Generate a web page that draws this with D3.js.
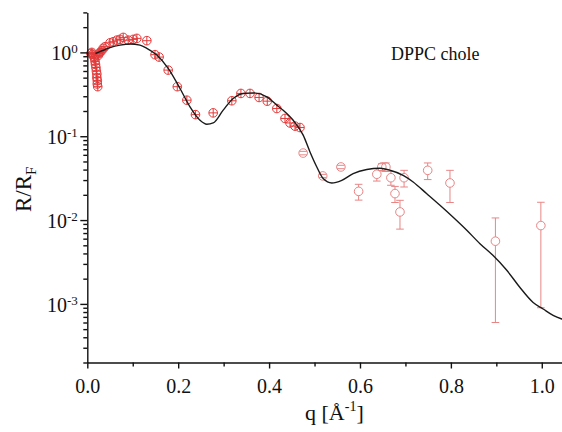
<!DOCTYPE html>
<html>
<head>
<meta charset="utf-8">
<script src="https://cdn.jsdelivr.net/npm/d3@7"></script>
<style>
  html, body { margin: 0; padding: 0; background: #fff; }
  svg { display: block; }
  text { font-family: "Liberation Serif", "Times New Roman", serif; fill: #111; }
</style>
</head>
<body>
<svg id="chart" width="562" height="432"></svg>
<script>
// Low-q reflectivity (bright markers with cross)
const qLow = [0.008, 0.010, 0.012, 0.014, 0.016, 0.017, 0.018, 0.019, 0.020, 0.021, 0.021, 0.022, 0.022, 0.023,
  0.024, 0.026, 0.028, 0.032, 0.035, 0.039, 0.050, 0.057, 0.065, 0.072, 0.079, 0.090, 0.101, 0.109, 0.131,
  0.149, 0.158, 0.178, 0.198, 0.219, 0.238, 0.277, 0.318, 0.338, 0.358, 0.378, 0.396, 0.417, 0.435, 0.446,
  0.457, 0.468];
const rLow = [0.97, 1.00, 0.95, 0.90, 0.85, 0.78, 0.72, 0.66, 0.60, 0.55, 0.50, 0.46, 0.42, 0.39,
  0.92, 0.97, 1.00, 1.05, 1.12, 1.17, 1.30, 1.34, 1.40, 1.43, 1.51, 1.40, 1.43, 1.47, 1.38,
  0.94, 0.88, 0.615, 0.39, 0.269, 0.181, 0.19, 0.265, 0.324, 0.324, 0.29, 0.262, 0.214, 0.163, 0.144,
  0.132, 0.127];

// High-q reflectivity with error bars (open circles)
const qHigh = [0.475, 0.518, 0.558, 0.597, 0.637, 0.648, 0.657, 0.668, 0.677, 0.688, 0.697, 0.749, 0.798, 0.898, 0.998];
const rHigh = [0.063, 0.0336, 0.043, 0.022, 0.0352, 0.043, 0.043, 0.032, 0.0207, 0.0125, 0.032, 0.0392, 0.0277, 0.0056, 0.0086];
const errHigh = [0.003, 0.0015, 0.002, 0.0047, 0.006, 0.004, 0.005, 0.006, 0.0045, 0.0047, 0.0072, 0.0088, 0.0115, 0.0050, 0.0077];

// Model fit curve
const qFit = [0.018, 0.028, 0.050, 0.072, 0.094, 0.116, 0.131, 0.153, 0.178, 0.204, 0.226, 0.248, 0.263, 0.277,
  0.299, 0.321, 0.343, 0.365, 0.395, 0.417, 0.431, 0.453, 0.475, 0.490, 0.505, 0.519, 0.538, 0.560, 0.585,
  0.615, 0.644, 0.666, 0.695, 0.717, 0.747, 0.776, 0.805, 0.835, 0.864, 0.893, 0.923, 0.952, 0.981, 1.003,
  1.025, 1.044, 1.06];
const rFit = [0.97, 1.02, 1.14, 1.22, 1.26, 1.22, 1.12, 0.93, 0.644, 0.371, 0.224, 0.155, 0.139, 0.144,
  0.205, 0.282, 0.324, 0.329, 0.295, 0.235, 0.204, 0.155, 0.103, 0.065, 0.0430, 0.0313, 0.0277, 0.0298, 0.0358,
  0.0401, 0.0415, 0.0393, 0.0342, 0.0285, 0.0206, 0.0150, 0.0108, 0.00756, 0.00522, 0.00377, 0.00252, 0.00157, 0.00104, 0.00087,
  0.00073, 0.00066, 0.00062];

const xTickVals = [0.0, 0.2, 0.4, 0.6, 0.8, 1.0];
const xMinorVals = [0.1, 0.3, 0.5, 0.7, 0.9];
const yTickExps = [0, -1, -2, -3];
const sampleLabel = "DPPC chole";

const svg = d3.select("#chart");
const x = d3.scaleLinear().domain([0, 1.05]).range([87.3, 564.5]);
const y = d3.scaleLog().domain([2e-4, 3]).range([362.5, 12.4]);

// minor log ticks: 2..9 within each decade
const yMinorVals = [];
for (let e = -4; e <= 0; e++) {
  for (let m = 2; m <= 9; m++) {
    const v = m * Math.pow(10, e);
    if (v >= 2e-4 && v <= 3.0001) yMinorVals.push(v);
  }
}

const plot = svg.append("g");
svg.append("defs").append("clipPath").attr("id", "clip")
  .append("rect").attr("x", 87.3).attr("y", 0).attr("width", 480).attr("height", 362.5);

const lowColor = "#e23a3a";
const highColor = "#e88585";

// low-q markers: circle with cross
const lowG = plot.append("g").attr("stroke", lowColor).attr("stroke-width", 1).attr("fill", "none");
qLow.forEach((q, i) => {
  const cx = x(q), cy = y(rLow[i]), r = 4.3;
  const g = lowG.append("g");
  g.append("circle").attr("cx", cx).attr("cy", cy).attr("r", r);
  g.append("line").attr("x1", cx - r).attr("x2", cx + r).attr("y1", cy).attr("y2", cy);
  g.append("line").attr("x1", cx).attr("x2", cx).attr("y1", cy - r).attr("y2", cy + r);
});

// high-q markers with error bars
const highG = plot.append("g").attr("stroke", highColor).attr("stroke-width", 1).attr("fill", "none");
qHigh.forEach((q, i) => {
  const cx = x(q), cy = y(rHigh[i]), r = 4.3, cap = 3.8;
  const yt = y(rHigh[i] + errHigh[i]);
  const yb = y(Math.max(rHigh[i] - errHigh[i], 2.1e-4));
  const g = highG.append("g");
  if (yt < cy - r) g.append("line").attr("x1", cx).attr("x2", cx).attr("y1", yt).attr("y2", cy - r);
  if (yb > cy + r) g.append("line").attr("x1", cx).attr("x2", cx).attr("y1", cy + r).attr("y2", yb);
  g.append("line").attr("x1", cx - cap).attr("x2", cx + cap).attr("y1", yt).attr("y2", yt);
  g.append("line").attr("x1", cx - cap).attr("x2", cx + cap).attr("y1", yb).attr("y2", yb);
  g.append("circle").attr("cx", cx).attr("cy", cy).attr("r", r);
});

// fit curve
const line = d3.line().x((d, i) => x(qFit[i])).y((d, i) => y(rFit[i])).curve(d3.curveMonotoneX);
plot.append("path").datum(qFit).attr("d", line)
  .attr("clip-path", "url(#clip)")
  .attr("fill", "none").attr("stroke", "#1a1a1a").attr("stroke-width", 1.4);

// axes
const axisStyle = g => {
  g.selectAll("path, line").attr("stroke", "#111").attr("stroke-width", 1.4);
};

const xAxis = svg.append("g").attr("transform", "translate(0,362.5)")
  .call(d3.axisBottom(x).tickValues(xTickVals).tickSize(6).tickSizeOuter(0).tickFormat(d3.format(".1f")));
xAxis.selectAll("text").attr("font-size", 20).attr("dy", 0).attr("y", 30)
  .style("font-family", "'Liberation Serif', serif").attr("fill", "#111");
axisStyle(xAxis);
const xMinor = svg.append("g").attr("transform", "translate(0,362.5)")
  .call(d3.axisBottom(x).tickValues(xMinorVals).tickSize(4).tickFormat(""));
xMinor.select(".domain").remove();
axisStyle(xMinor);

const yAxis = svg.append("g").attr("transform", "translate(87.3,0)")
  .call(d3.axisLeft(y).tickValues(yTickExps.map(e => Math.pow(10, e))).tickSize(7).tickSizeOuter(0).tickFormat(""));
axisStyle(yAxis);
yAxis.selectAll(".tick").each(function (d) {
  const e = Math.round(Math.log10(d));
  const t = d3.select(this).append("text")
    .attr("x", -9.5).attr("y", 7.5).attr("text-anchor", "end")
    .attr("font-size", 20).attr("fill", "#111")
    .style("font-family", "'Liberation Serif', serif");
  t.append("tspan").text("10");
  t.append("tspan").attr("font-size", 13).attr("dy", -7).text(String(e));
});
const yMinor = svg.append("g").attr("transform", "translate(87.3,0)")
  .call(d3.axisLeft(y).tickValues(yMinorVals).tickSize(4).tickFormat(""));
yMinor.select(".domain").remove();
axisStyle(yMinor);

// axis titles
const xt = svg.append("text").attr("x", 305).attr("y", 420).attr("font-size", 22);
xt.append("tspan").text("q [\u00C5");
xt.append("tspan").attr("font-size", 14).attr("dy", -9).text("-1");
xt.append("tspan").attr("dy", 9).text("]");

const yt = svg.append("text").attr("transform", "translate(31,212) rotate(-90)").attr("font-size", 23);
yt.append("tspan").text("R/R");
yt.append("tspan").attr("font-size", 15).attr("dy", 5).text("F");

svg.append("text").attr("x", 391).attr("y", 60).attr("font-size", 18).text(sampleLabel);
</script>
</body>
</html>
